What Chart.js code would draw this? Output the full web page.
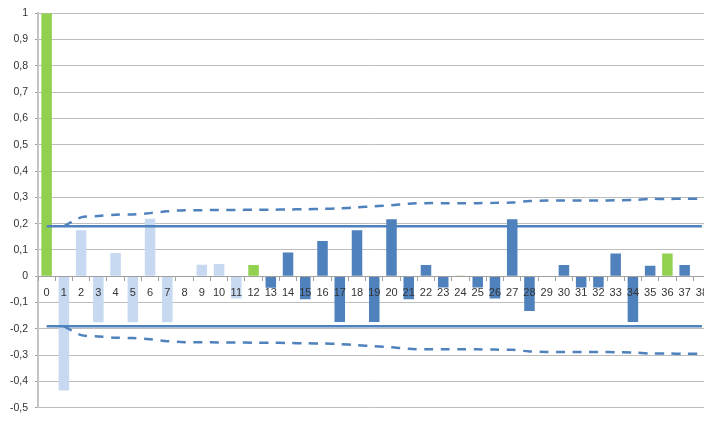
<!DOCTYPE html>
<html><head><meta charset="utf-8">
<script src="https://cdn.jsdelivr.net/npm/chart.js@4/dist/chart.umd.min.js"></script>
<style>
html,body{margin:0;padding:0;overflow:hidden;background:#fff;width:704px;height:421px}
#wrap{width:714px;height:421px}
</style></head>
<body><div id="wrap"><canvas id="c" width="714" height="421"></canvas></div>
<script>
const lags = ["0","1","2","3","4","5","6","7","8","9","10","11","12","13","14","15","16","17","18","19","20","21","22","23","24","25","26","27","28","29","30","31","32","33","34","35","36","37","38"];
const acf = [1, -0.435, 0.175, -0.175, 0.088, -0.175, 0.219, -0.175, -0.003, 0.044, 0.047, -0.085, 0.043, -0.044, 0.090, -0.088, 0.134, -0.174, 0.175, -0.174, 0.217, -0.088, 0.043, -0.043, 0.003, -0.043, -0.085, 0.217, -0.132, -0.003, 0.043, -0.043, -0.043, 0.086, -0.174, 0.040, 0.086, 0.043, -0.003];
const upperBand = [null, 0.190, 0.224, 0.229, 0.234, 0.235, 0.240, 0.247, 0.251, 0.251, 0.252, 0.252, 0.253, 0.253, 0.254, 0.255, 0.256, 0.258, 0.262, 0.266, 0.270, 0.276, 0.278, 0.278, 0.278, 0.278, 0.279, 0.280, 0.286, 0.288, 0.288, 0.288, 0.288, 0.289, 0.290, 0.294, 0.294, 0.295, 0.295];
const lowerBand = [null, -0.190, -0.224, -0.229, -0.234, -0.235, -0.240, -0.247, -0.251, -0.251, -0.252, -0.252, -0.253, -0.253, -0.254, -0.255, -0.256, -0.258, -0.262, -0.266, -0.270, -0.276, -0.278, -0.278, -0.278, -0.278, -0.279, -0.280, -0.286, -0.288, -0.288, -0.288, -0.288, -0.289, -0.290, -0.294, -0.294, -0.295, -0.295];
const criticalUpper = [{x: "0", y: 0.19}, {x: "38", y: 0.19}];
const criticalLower = [{x: "0", y: -0.19}, {x: "38", y: -0.19}];
const yTickValues = [-0.5, -0.4, -0.3, -0.2, -0.1, 0, 0.1, 0.2, 0.3, 0.4, 0.5, 0.6, 0.7, 0.8, 0.9, 1];

const GREEN = '#92D050', LIGHT = '#C6D9F1', DARK = '#4F81BD';
const barColors = lags.map((l, i) => (i % 12 === 0) ? GREEN : (i < 12 ? LIGHT : DARK));
const FONT = 'Liberation Sans';

new Chart(document.getElementById('c'), {
  data: {
    labels: lags,
    datasets: [
      { type: 'bar', data: acf, backgroundColor: barColors, barPercentage: 0.61, categoryPercentage: 1, order: 3 },
      { type: 'line', data: criticalUpper, borderColor: DARK, borderWidth: 2.5, pointRadius: 0, order: 1 },
      { type: 'line', data: criticalLower, borderColor: DARK, borderWidth: 2.5, pointRadius: 0, order: 1 },
      { type: 'line', data: upperBand, borderColor: DARK, borderWidth: 2.5, borderDash: [9, 7.5], pointRadius: 0, tension: 0.3, order: 2 },
      { type: 'line', data: lowerBand, borderColor: DARK, borderWidth: 2.5, borderDash: [9, 7.5], pointRadius: 0, tension: 0.3, order: 2 }
    ]
  },
  options: {
    responsive: false,
    animation: false,
    devicePixelRatio: 1,
    layout: { padding: { top: 12, bottom: 12, left: 0, right: 0 } },
    plugins: { legend: { display: false }, tooltip: { enabled: false } },
    scales: {
      x: {
        type: 'category',
        position: { y: 0 },
        offset: true,
        grid: { offset: true, drawOnChartArea: false, drawTicks: true, tickLength: 4, color: '#A0A0A0', z: 1 },
        border: { display: true, color: '#A0A0A0', width: 1, z: 1 },
        ticks: { z: 2, autoSkip: false, maxRotation: 0, padding: 6, color: '#333333', font: { family: FONT, size: 11 } }
      },
      y: {
        min: -0.5, max: 1,
        afterBuildTicks: s => { s.ticks = yTickValues.map(v => ({ value: v })); },
        afterFit: s => { s.width = 38; },
        grid: { color: '#BDBDBD', borderDash: [1, 1], drawTicks: true, tickLength: 3, tickColor: '#A0A0A0' },
        border: { display: true, color: '#C4C4C4', width: 2, dash: [] },
        ticks: {
          padding: 7, color: '#333333', font: { family: FONT, size: 10.5 },
          callback: v => String(Math.round(v * 10) / 10).replace('.', ',')
        }
      }
    }
  }
});
</script>
</body></html>
